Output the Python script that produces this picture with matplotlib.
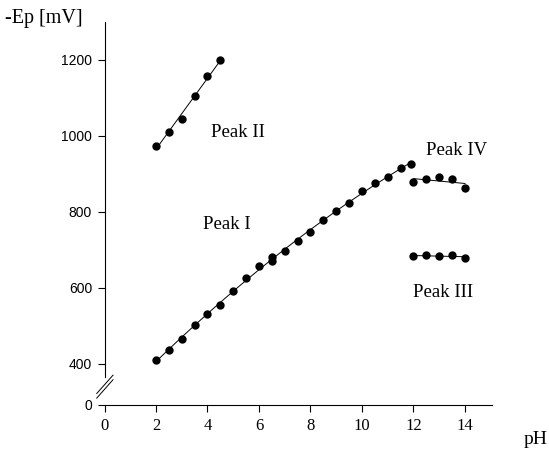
import numpy as np
import matplotlib.pyplot as plt

# Peak I
ph_1 = [2, 2.5, 3, 3.5, 4, 4.5, 5, 5.5, 6, 6.5, 6.5, 7, 7.5, 8, 8.5, 9, 9.5, 10, 10.5, 11, 11.5, 11.9]
ep_1 = [410, 437, 467, 503, 532, 556, 591, 625, 658, 682, 670, 697, 724, 747, 779, 803, 824, 855, 877, 893, 915, 925]
# Peak II
ph_2 = [2, 2.5, 3, 3.5, 4, 4.5]
ep_2 = [974, 1010, 1045, 1105, 1159, 1199]
# Peak III
ph_3 = [12, 12.5, 13, 13.5, 14]
ep_3 = [683, 686, 684, 688, 678]
# Peak IV
ph_4 = [12, 12.5, 13, 13.5, 14]
ep_4 = [878, 887, 893, 887, 862]

y_zero = 292  # where "0" sits below the axis break
yticks = [y_zero, 400, 600, 800, 1000, 1200]
ylabels = ['0', '400', '600', '800', '1000', '1200']
xticks = [0, 2, 4, 6, 8, 10, 12, 14]

serif = 'Liberation Serif'
sans = 'Liberation Sans'

fig = plt.figure(figsize=(5.49, 4.49), dpi=100)
ax = fig.add_axes([104.5 / 549, 1 - 405 / 449, (492 - 104.5) / 549, (405 - 22) / 449])

mk = dict(marker='o', color='black', markersize=5, linestyle='none')
ax.plot(ph_1, ep_1, **mk)
ax.plot(ph_2, ep_2, **mk)
ax.plot(ph_3, ep_3, **mk)
ax.plot(ph_4, ep_4, **mk)

# fitted lines
for xs, ys, deg in [(ph_1, ep_1, 2), (ph_2, ep_2, 1), (ph_3, ep_3, 1), (ph_4, ep_4, 1)]:
    c = np.polyfit(xs, ys, deg)
    xx = np.linspace(min(xs), max(xs), 50)
    ax.plot(xx, np.polyval(c, xx), color='black', lw=0.7)

ax.set_xlim(0, 15.05)
ax.set_ylim(y_zero, 1300)
ax.set_xticks(xticks)
ax.set_xticklabels([str(t) for t in xticks], fontfamily=serif, fontsize=12)
ax.set_yticks(yticks)
ax.set_yticklabels(ylabels, fontfamily=sans, fontsize=10)
ax.tick_params(direction='out', length=5, width=0.8, pad=4)

ax.spines['top'].set_visible(False)
ax.spines['right'].set_visible(False)
ax.spines['left'].set_bounds(366, 1300)
ax.spines['left'].set_linewidth(0.8)
ax.spines['bottom'].set_linewidth(0.8)

# axis break marks
for off in [0.0, 0.012]:
    ax.plot([-0.02, 0.022], [0.018 + off, 0.066 + off], color='black', lw=0.7,
            transform=ax.transAxes, clip_on=False)

ax.text(4.14, 1008, 'Peak II', fontfamily=serif, fontsize=13.5, va='center')
ax.text(3.83, 766, 'Peak I', fontfamily=serif, fontsize=13.5, va='center')
ax.text(12.5, 963, 'Peak IV', fontfamily=serif, fontsize=13.5, va='center')
ax.text(11.99, 588, 'Peak III', fontfamily=serif, fontsize=13.5, va='center')

fig.text(5 / 549, 1 - 18 / 449, '-Ep [mV]', fontfamily=serif, fontsize=14.5, va='center')
fig.text(524 / 549, 1 - 440 / 449, 'pH', fontfamily=serif, fontsize=14, va='center')

fig.savefig('out.png', dpi=100)
